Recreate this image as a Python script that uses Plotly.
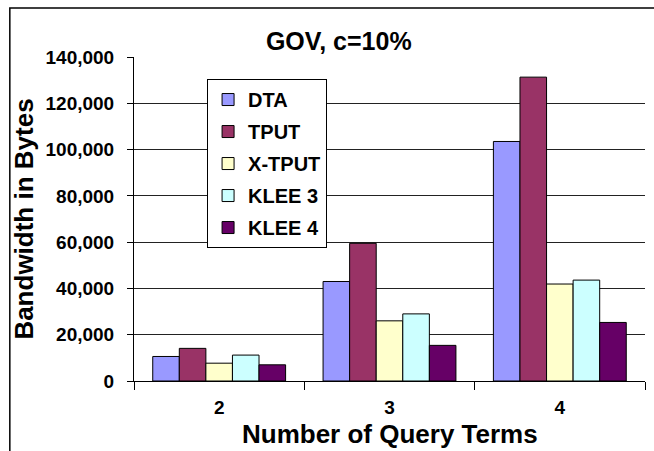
import plotly.graph_objects as go

# categories and values
terms = ["2", "3", "4"]
series_names = ["DTA", "TPUT", "X-TPUT", "KLEE 3", "KLEE 4"]
dta = [10600, 43000, 103500]
tput = [14100, 59500, 131300]
xtput = [7700, 26000, 41900]
klee3 = [11200, 29000, 43600]
klee4 = [7000, 15400, 25300]
y_ticks = [0, 20000, 40000, 60000, 80000, 100000, 120000, 140000]

colors = ["#9999FF", "#993366", "#FFFFCC", "#CCFFFF", "#660066"]
FONT = "Liberation Sans, Arial, sans-serif"

fig = go.Figure()
for i, (name, vals) in enumerate(zip(series_names, [dta, tput, xtput, klee3, klee4])):
    fig.add_trace(go.Bar(
        x=terms, y=vals, name=name, legendgroup=name,
        marker=dict(color=colors[i], line=dict(color="black", width=1)),
    ))

# chart-area border (extends off the canvas on right/bottom like the original)
fig.add_shape(type="rect", xref="paper", yref="paper",
              x0=-0.243, x1=1.2, y0=-0.4, y1=1.151,
              line=dict(color="black", width=1.5), fillcolor="rgba(0,0,0,0)", layer="below")

# x-axis title as an annotation so it can sit close to the tick labels
fig.add_annotation(text="Number of Query Terms", xref="paper", yref="paper",
                   x=0.5, y=-0.163, xanchor="center", yanchor="middle", showarrow=False,
                   font=dict(size=26, family=FONT, weight="bold", color="black"))

fig.update_layout(
    width=654, height=451,
    margin=dict(l=134, r=9, t=57, b=70),
    paper_bgcolor="white", plot_bgcolor="white",
    barmode="group", bargap=0.22, bargroupgap=0,
    font=dict(family=FONT, color="black", size=19, weight="bold"),
    title=dict(text="GOV, c=10%", x=0.518, xanchor="center", y=0.909, yanchor="middle",
               font=dict(size=25, family=FONT, weight="bold")),
    legend=dict(x=0.143, y=0.932, xanchor="left", yanchor="top",
                bgcolor="white", bordercolor="black", borderwidth=1,
                font=dict(size=20, family=FONT, weight="bold"),
                tracegroupgap=3, traceorder="grouped", itemwidth=30),
    showlegend=True,
)
fig.update_xaxes(
    type="category", tickson="boundaries", ticks="outside", ticklen=8, tickcolor="black",
    showline=True, linecolor="black", linewidth=1, showgrid=False,
    ticklabelstandoff=9,
)
fig.update_yaxes(
    range=[0, 140000], tickvals=y_ticks, tickformat=",d",
    ticks="outside", ticklen=6, tickcolor="black", ticklabelstandoff=9,
    showline=True, linecolor="black", linewidth=1,
    showgrid=True, gridcolor="#222222", gridwidth=1, zeroline=False,
    title=dict(text="Bandwidth in Bytes", font=dict(size=26, family=FONT, weight="bold"), standoff=4),
)

fig.write_html("out.html", config={"displayModeBar": False},
               post_script="document.body.style.margin='0';")
